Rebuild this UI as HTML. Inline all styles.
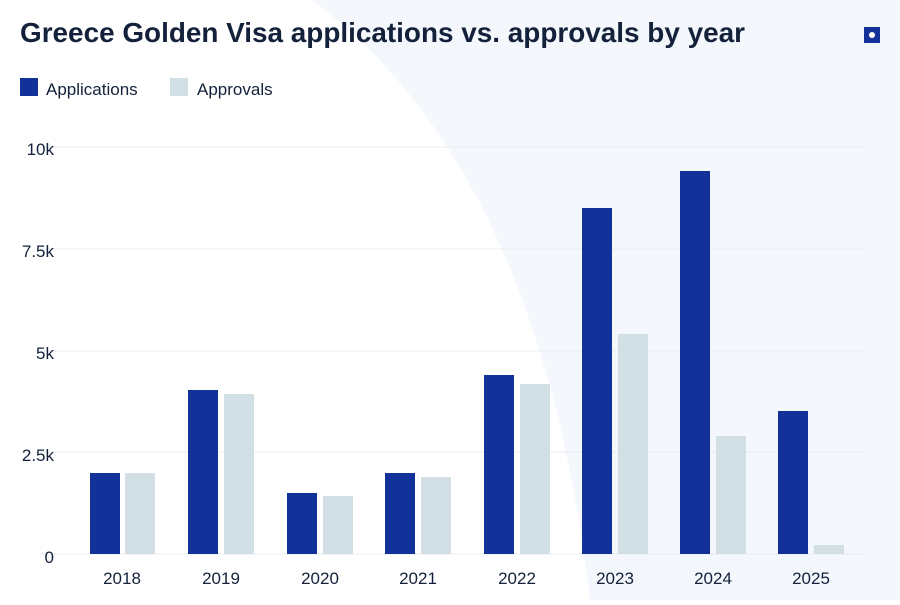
<!DOCTYPE html>
<html><head><meta charset="utf-8"><style>
body{margin:0;width:900px;height:600px;overflow:hidden;background:#fff;font-family:"Liberation Sans",sans-serif;}
</style></head><body>
<svg width="900" height="600" xmlns="http://www.w3.org/2000/svg" font-family="Liberation Sans, sans-serif">
<path d="M312,0 Q540,170 590,600 L900,600 L900,0 Z" fill="#f4f7fc"/>
<text x="20" y="42" font-size="28" font-weight="bold" fill="#13213a" textLength="725" lengthAdjust="spacingAndGlyphs">Greece Golden Visa applications vs. approvals by year</text>
<rect x="864" y="27" width="16" height="16" fill="#12329a"/><circle cx="872" cy="35" r="3" fill="#fff"/>
<rect x="20" y="78" width="18" height="18" fill="#12329a"/>
<text x="46" y="95" font-size="17" fill="#13213a">Applications</text>
<rect x="170" y="78" width="18" height="18" fill="#d2e0e5"/>
<text x="197" y="95" font-size="17" fill="#13213a">Approvals</text>
<g stroke="#e8ecf0" stroke-width="1">
<line x1="40" y1="147" x2="864" y2="147"/><line x1="40" y1="249" x2="864" y2="249"/>
<line x1="40" y1="351" x2="864" y2="351"/><line x1="40" y1="452" x2="864" y2="452"/>
<line x1="40" y1="554" x2="864" y2="554"/>
</g>
<g font-size="17" fill="#13213a" text-anchor="end">
<text x="54" y="155">10k</text><text x="54" y="257">7.5k</text><text x="54" y="359">5k</text><text x="54" y="461">2.5k</text><text x="54" y="563">0</text>
</g>
<g fill="#12329a">
<rect x="90" y="473" width="30" height="81"/><rect x="188" y="390" width="30" height="164"/>
<rect x="287" y="493" width="30" height="61"/><rect x="385" y="473" width="30" height="81"/>
<rect x="484" y="375" width="30" height="179"/><rect x="582" y="208" width="30" height="346"/>
<rect x="680" y="171" width="30" height="383"/><rect x="778" y="411" width="30" height="143"/>
</g>
<g fill="#d2e0e5">
<rect x="125" y="473" width="30" height="81"/><rect x="224" y="394" width="30" height="160"/>
<rect x="323" y="496" width="30" height="58"/><rect x="421" y="477" width="30" height="77"/>
<rect x="520" y="384" width="30" height="170"/><rect x="618" y="334" width="30" height="220"/>
<rect x="716" y="436" width="30" height="118"/><rect x="814" y="545" width="30" height="9"/>
</g>
<g font-size="17" fill="#13213a" text-anchor="middle">
<text x="122" y="584">2018</text><text x="221" y="584">2019</text><text x="320" y="584">2020</text><text x="418" y="584">2021</text>
<text x="517" y="584">2022</text><text x="615" y="584">2023</text><text x="713" y="584">2024</text><text x="811" y="584">2025</text>
</g>
</svg>
</body></html>
